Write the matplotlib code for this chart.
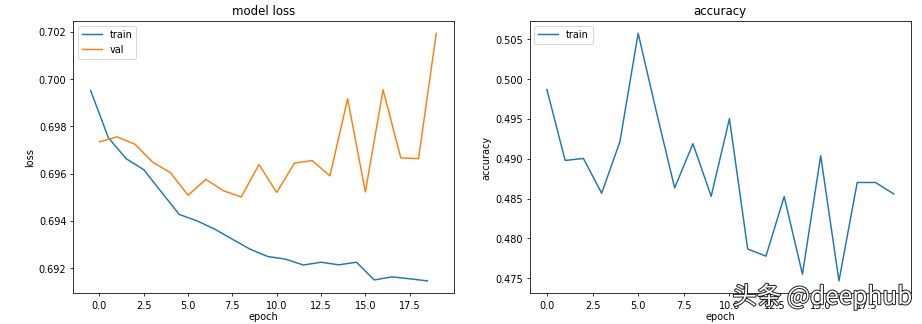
import matplotlib
matplotlib.use("Agg")
import matplotlib.pyplot as plt
import matplotlib.patheffects as pe

# Training history values per epoch
epochs = list(range(20))
train_loss = [0.69952, 0.69753, 0.69664, 0.69617, 0.69522, 0.69428, 0.69401,
              0.69366, 0.69323, 0.69281, 0.69250, 0.69239, 0.69214, 0.69226,
              0.69215, 0.69226, 0.69151, 0.69164, 0.69156, 0.69147]
val_loss = [0.69735, 0.69756, 0.69725, 0.69649, 0.69605, 0.69509, 0.69576,
            0.69528, 0.69502, 0.69639, 0.69521, 0.69645, 0.69656, 0.69591,
            0.69917, 0.69523, 0.69955, 0.69667, 0.69664, 0.70194]
train_acc = [0.4987, 0.48979, 0.49004, 0.48567, 0.49214, 0.50576, 0.49588,
             0.48634, 0.49189, 0.48529, 0.49504, 0.47866, 0.47777, 0.48525,
             0.4755, 0.49038, 0.47466, 0.48702, 0.48702, 0.48559]

# training loss is averaged over the epoch, so shift it half an epoch back
train_loss_x = [e - 0.5 for e in epochs]

DPI = 70.5
fig = plt.figure(figsize=(922.4 / DPI, 324.4 / DPI), dpi=DPI)

ax1 = fig.add_axes([0.0795, 0.0947, 0.4122, 0.8396])
ax1.plot(train_loss_x, train_loss, color="#1f77b4", label="train")
ax1.plot(epochs, val_loss, color="#ff7f0e", label="val")
ax1.set_title("model loss")
ax1.set_xlabel("epoch", labelpad=2)
ax1.set_ylabel("loss")
ax1.legend(loc="upper left")

ax2 = fig.add_axes([0.5741, 0.0947, 0.4136, 0.8396])
ax2.plot(epochs, train_acc, color="#1f77b4", label="train")
ax2.set_title("accuracy")
ax2.set_xlabel("epoch", labelpad=2)
ax2.set_ylabel("accuracy")
ax2.legend(loc="upper left")

fig.text(0.794, 0.083, "头条 @deephub", family=["Noto Sans CJK SC", "DejaVu Sans"],
         fontsize=25, color="white", va="center", ha="left",
         path_effects=[pe.withStroke(linewidth=2.0, foreground="#1e1e1e")])

fig.savefig("out.png", dpi=DPI)
